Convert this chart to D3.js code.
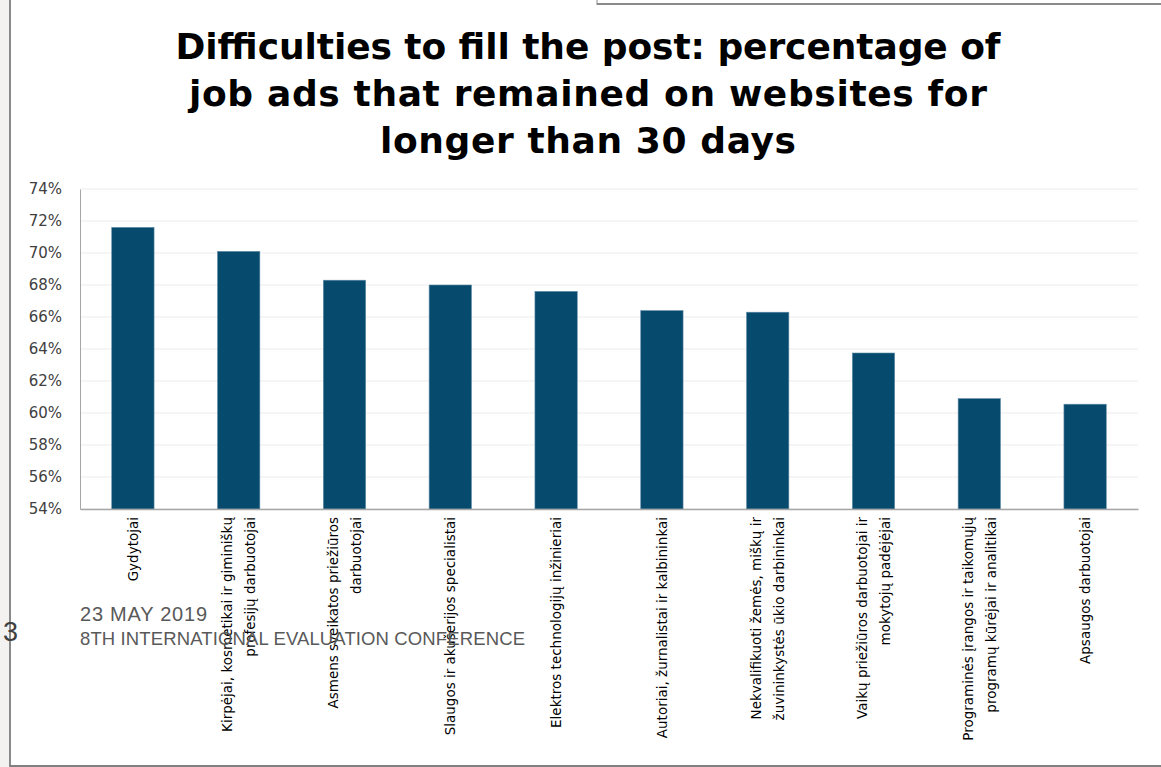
<!DOCTYPE html>
<html>
<head>
<meta charset="utf-8">
<script src="https://cdn.jsdelivr.net/npm/d3@7"></script>
<style>
  body { margin: 0; background: white; }
  svg { display: block; }
</style>
</head>
<body>
<div id="chart"></div>
<script>
// categories (line breaks as in the original slide)
var categories = [
  ["Gydytojai"],
  ["Kirpėjai, kosmetikai ir giminiškų", "profesijų darbuotojai"],
  ["Asmens sveikatos priežiūros", "darbuotojai"],
  ["Slaugos ir akušerijos specialistai"],
  ["Elektros technologijų inžinieriai"],
  ["Autoriai, žurnalistai ir kalbininkai"],
  ["Nekvalifikuoti žemės, miškų ir", "žuvininkystės ūkio darbininkai"],
  ["Vaikų priežiūros darbuotojai ir", "mokytojų padėjėjai"],
  ["Programinės įrangos ir taikomųjų", "programų kūrėjai ir analitikai"],
  ["Apsaugos darbuotojai"]
];
var values = [71.6, 70.1, 68.3, 68.0, 67.6, 66.4, 66.3, 63.75, 60.9, 60.55];
var yTicks = [54, 56, 58, 60, 62, 64, 66, 68, 70, 72, 74];
var titleLines = ["Difficulties to fill the post: percentage of",
                  "job ads that remained on websites for",
                  "longer than 30 days"];
var titleWidths = [825, 798, 416];

var W = 1161, H = 767;
var margin = { top: 189, right: 23, bottom: 258, left: 80 };
var width = W - margin.left - margin.right,
    height = H - margin.top - margin.bottom;

var svg = d3.select("#chart").append("svg")
    .attr("width", W)
    .attr("height", H);

// slide frame
svg.append("rect").attr("x", 0).attr("y", 0).attr("width", 9).attr("height", H).attr("fill", "#f3f2f0");
svg.append("line").attr("x1", 10).attr("x2", 10).attr("y1", 0).attr("y2", H)
    .attr("stroke", "#8a8a8a").attr("stroke-width", 2);
svg.append("line").attr("x1", 10).attr("x2", W).attr("y1", 766).attr("y2", 766)
    .attr("stroke", "#808080").attr("stroke-width", 2);
svg.append("line").attr("x1", 597).attr("x2", W).attr("y1", 4).attr("y2", 4)
    .attr("stroke", "#8a8a8a").attr("stroke-width", 2);
svg.append("line").attr("x1", 597).attr("x2", 597).attr("y1", 0).attr("y2", 5)
    .attr("stroke", "#8a8a8a").attr("stroke-width", 1);

// title
svg.append("g")
    .attr("font-family", "'DejaVu Sans', sans-serif")
    .attr("font-weight", "bold")
    .attr("font-size", 36)
    .attr("fill", "#000")
    .selectAll("text")
    .data(titleLines)
    .enter()
    .append("text")
    .attr("text-anchor", "middle")
    .attr("x", 588)
    .attr("y", function(d, i) { return 59 + i * 47; })
    .attr("textLength", function(d, i) { return titleWidths[i]; })
    .attr("lengthAdjust", "spacing")
    .text(function(d) { return d; });

var x = d3.scaleBand()
    .domain(d3.range(categories.length))
    .range([0, width])
    .paddingInner(0.6)
    .paddingOuter(0.3);

var y = d3.scaleLinear()
    .domain([54, 74])
    .range([height, 0]);

var g = svg.append("g")
    .attr("transform", "translate(" + margin.left + "," + margin.top + ")");

// gridlines
g.append("g")
    .selectAll("line")
    .data(yTicks)
    .enter()
    .append("line")
    .attr("x1", 0)
    .attr("x2", width)
    .attr("y1", function(d) { return y(d); })
    .attr("y2", function(d) { return y(d); })
    .attr("stroke", "#ececec")
    .attr("stroke-width", 1);

// y axis
var yAxis = g.append("g")
    .call(d3.axisLeft(y).tickValues(yTicks).tickSize(0).tickPadding(18)
        .tickFormat(function(d) { return d + "%"; }));
yAxis.select(".domain").attr("stroke", "#a6a6a6");
yAxis.selectAll("text")
    .attr("font-family", "'DejaVu Sans', sans-serif")
    .attr("font-size", 15)
    .attr("fill", "#404040");

// bars
g.selectAll(".bar")
    .data(values)
    .enter()
    .append("rect")
    .attr("class", "bar")
    .attr("x", function(d, i) { return x(i); })
    .attr("width", x.bandwidth())
    .attr("y", function(d) { return y(d); })
    .attr("height", function(d) { return height - y(d); })
    .attr("fill", "#064a6e")
    .attr("stroke", "#5f8aa6")
    .attr("stroke-width", 0.6);

// x axis
var xAxis = g.append("g")
    .attr("transform", "translate(0," + height + ")")
    .call(d3.axisBottom(x).tickSize(0).tickFormat(""));
xAxis.select(".domain").attr("stroke", "#a6a6a6").attr("stroke-width", 1.5);

// rotated category labels
var labels = g.append("g")
    .attr("font-family", "'DejaVu Sans', sans-serif")
    .attr("font-size", 13.5)
    .attr("fill", "#000")
    .selectAll("text")
    .data(categories)
    .enter()
    .append("text")
    .attr("text-anchor", "end")
    .attr("transform", function(d, i) {
        var cx = x(i) + x.bandwidth() / 2;
        return "translate(" + cx + "," + (height + 8) + ") rotate(-90)";
    });

labels.selectAll("tspan")
    .data(function(d) { return d.map(function(t, j) { return { t: t, j: j, n: d.length }; }); })
    .enter()
    .append("tspan")
    .attr("x", 0)
    .attr("y", function(d) { return (d.j - (d.n - 1) / 2) * 23 + 5; })
    .text(function(d) { return d.t; });

// slide footer
var footer = svg.append("g")
    .attr("font-family", "'Liberation Sans', Arial, sans-serif")
    .attr("fill", "#595959");
footer.append("text").attr("x", 80).attr("y", 621).attr("font-size", 20)
    .attr("textLength", 127).attr("lengthAdjust", "spacing").text("23 MAY 2019");
footer.append("text").attr("x", 80).attr("y", 645).attr("font-size", 18.5)
    .attr("textLength", 445).attr("lengthAdjust", "spacing").text("8TH INTERNATIONAL EVALUATION CONFERENCE");
footer.append("text").attr("x", 3).attr("y", 641).attr("font-size", 27).attr("fill", "#404040").text("3");
</script>
</body>
</html>
